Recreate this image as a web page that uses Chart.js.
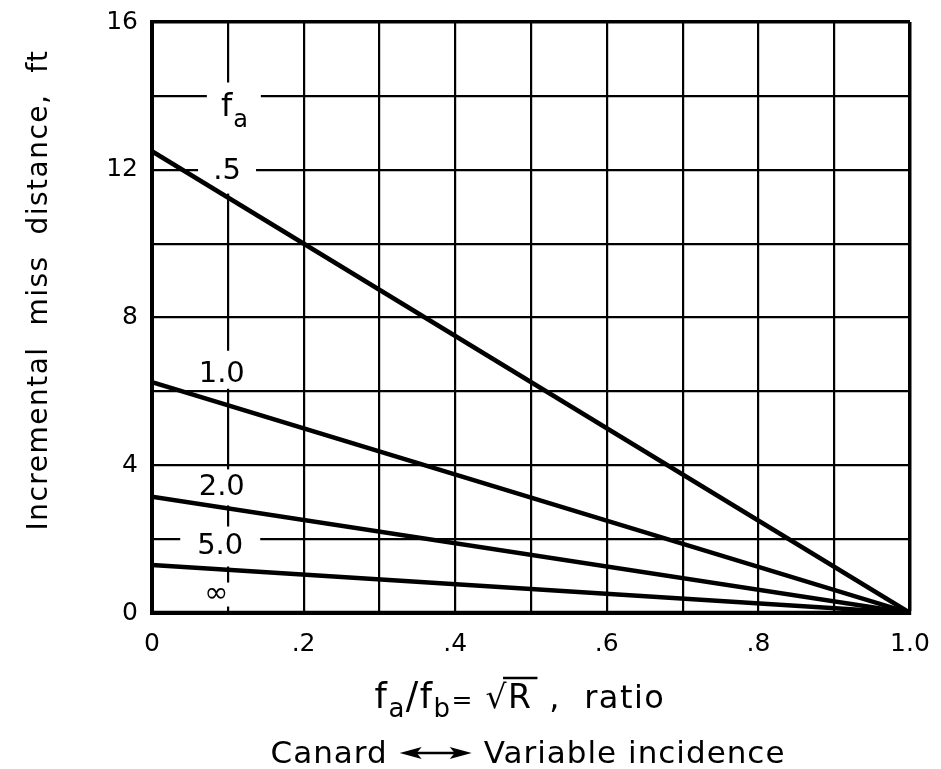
<!DOCTYPE html>
<html>
<head>
<meta charset="utf-8">
<script src="https://cdn.jsdelivr.net/npm/chart.js@4.4.1/dist/chart.umd.min.js"></script>
<style>
  html, body { margin: 0; padding: 0; background: #fff; }
  #wrap { width: 941px; height: 769px; position: relative; }
</style>
</head>
<body>
<div id="wrap"><canvas id="chart"></canvas></div>
<script>
// ratio fa/fb along the x axis
var xRatio = [0, 1];

// incremental miss distance (ft) for each fa curve
var missHalf = [12.5, 0];
var missOne = [6.25, 0];
var missTwo = [3.15, 0];
var missFive = [1.3, 0];
var missInf = [0, 0];

var curveNames = [".5", "1.0", "2.0", "5.0", "\u221e"];

var FONT = "'DejaVu Sans', sans-serif";

function pts(ys) {
  return xRatio.map(function (x, i) { return { x: x, y: ys[i] }; });
}

// curve labels (in data units) with white boxes that break the grid
var curveLabels = [
  { text: "f", sub: "a", x: 0.108, y: 13.55, w: 54, h: 60, dy: 0 },
  { text: curveNames[0], x: 0.099, y: 11.95, w: 58, h: 52, dy: -4 },
  { text: curveNames[1], x: 0.092, y: 6.45, w: 50, h: 38, dy: -5 },
  { text: curveNames[2], x: 0.092, y: 3.4, w: 56, h: 36, dy: 0 },
  { text: curveNames[3], x: 0.09, y: 1.8, w: 80, h: 40, dy: 0 },
  { text: curveNames[4], x: 0.085, y: 0.5, w: 30, h: 24, dy: 0 }
];

var labelPlugin = {
  id: "curveLabels",
  beforeDatasetsDraw: function (chart) {
    var ctx = chart.ctx, xs = chart.scales.x, ys = chart.scales.y;
    ctx.save();
    curveLabels.forEach(function (l) {
      var px = xs.getPixelForValue(l.x), py = ys.getPixelForValue(l.y);
      ctx.fillStyle = "#fff";
      ctx.fillRect(px - l.w / 2, py + l.dy - l.h / 2, l.w, l.h);
      ctx.fillStyle = "#000";
      ctx.textBaseline = "middle";
      if (l.sub) {
        ctx.font = "32px " + FONT;
        ctx.textAlign = "left";
        var w1 = ctx.measureText(l.text).width;
        ctx.font = "24px " + FONT;
        var w2 = ctx.measureText(l.sub).width;
        var x0 = px - (w1 + w2) / 2;
        ctx.font = "32px " + FONT;
        ctx.fillText(l.text, x0, py - 5);
        ctx.font = "24px " + FONT;
        ctx.fillText(l.sub, x0 + w1 + 1, py + 8);
      } else {
        ctx.font = "29px " + FONT;
        ctx.textAlign = "center";
        ctx.fillText(l.text, px, py);
      }
    });
    ctx.restore();
  }
};

// x axis title lines drawn with subscripts, and the arrow line
function drawRuns(ctx, runs, cx, base) {
  var total = 0;
  runs.forEach(function (r) {
    ctx.font = r.size + "px " + FONT;
    r.w = ctx.measureText(r.t).width + (r.gap || 0);
    total += r.w;
  });
  var x = cx - total / 2;
  runs.forEach(function (r) {
    ctx.font = r.size + "px " + FONT;
    ctx.fillText(r.t, x, base + (r.dy || 0));
    r.x = x;
    x += r.w;
  });
  return runs;
}

var titlePlugin = {
  id: "titles",
  afterDraw: function (chart) {
    var ctx = chart.ctx;
    ctx.save();
    ctx.fillStyle = "#000";
    ctx.strokeStyle = "#000";
    ctx.textAlign = "left";
    ctx.textBaseline = "alphabetic";
    ctx.letterSpacing = "1.5px";
    var base1 = 708;
    var runs = drawRuns(ctx, [
      { t: "f", size: 35 },
      { t: "a", size: 26, dy: 9 },
      { t: "/", size: 37 },
      { t: "f", size: 35 },
      { t: "b", size: 26, dy: 9 },
      { t: "= ", size: 25, gap: 2 },
      { t: "\u221a", size: 33 },
      { t: "R", size: 33, gap: 5 },
      { t: " ,  ratio", size: 32 }
    ], 520, base1);
    // bar over R
    var sq = runs[6], r = runs[7];
    ctx.lineWidth = 2.5;
    ctx.beginPath();
    ctx.moveTo(sq.x + sq.w - 5, base1 - 30);
    ctx.lineTo(r.x + r.w, base1 - 30);
    ctx.stroke();

    // Canard <-> Variable incidence
    ctx.letterSpacing = "1px";
    var base = 763, size = 31;
    ctx.font = size + "px " + FONT;
    var a = "Canard", b = "Variable incidence";
    var wa = ctx.measureText(a).width, wb = ctx.measureText(b).width;
    var arrowW = 72, gap = 12;
    var total = wa + gap + arrowW + gap + wb;
    var x0 = 528 - total / 2;
    ctx.fillText(a, x0, base);
    var ax = x0 + wa + gap, ay = base - 10;
    ctx.lineWidth = 2.5;
    ctx.beginPath();
    ctx.moveTo(ax + 10, ay);
    ctx.lineTo(ax + arrowW - 10, ay);
    ctx.stroke();
    [[ax, 1], [ax + arrowW, -1]].forEach(function (p) {
      ctx.beginPath();
      ctx.moveTo(p[0], ay);
      ctx.lineTo(p[0] + 22 * p[1], ay - 6);
      ctx.lineTo(p[0] + 17 * p[1], ay);
      ctx.lineTo(p[0] + 22 * p[1], ay + 6);
      ctx.closePath();
      ctx.fill();
    });
    ctx.fillText(b, ax + arrowW + gap, base);

    // y axis title
    ctx.translate(40, 290);
    ctx.rotate(-Math.PI / 2);
    ctx.textAlign = "center";
    ctx.textBaseline = "middle";
    ctx.letterSpacing = "1.5px";
    ctx.font = "28px " + FONT;
    ctx.fillText("Incremental  miss  distance,  ft", 0, 0);
    ctx.restore();
  }
};

function lineSet(ys) {
  return {
    data: pts(ys),
    borderColor: "#000",
    borderWidth: 4.5,
    pointRadius: 0,
    fill: false,
    tension: 0
  };
}

var ctx = document.getElementById("chart").getContext("2d");

var myChart = new Chart(ctx, {
  type: "line",
  data: {
    datasets: [
      lineSet(missHalf),
      lineSet(missOne),
      lineSet(missTwo),
      lineSet(missFive),
      lineSet(missInf)
    ]
  },
  plugins: [labelPlugin, titlePlugin],
  options: {
    responsive: true,
    maintainAspectRatio: false,
    animation: false,
    layout: { padding: { top: 22, right: 31, left: 0, bottom: 0 } },
    plugins: {
      legend: { display: false },
      tooltip: { enabled: false }
    },
    scales: {
      x: {
        type: "linear",
        min: 0,
        max: 1,
        afterFit: function (scale) { scale.height = 156; },
        ticks: {
          stepSize: 0.1,
          autoSkip: false,
          maxRotation: 0,
          padding: 4,
          color: "#000",
          font: { family: FONT, size: 25 },
          callback: function (v) {
            var t = Math.round(v * 10);
            if (t % 2) return "";
            if (t === 0) return "0";
            if (t === 10) return "1.0";
            return "." + t;
          }
        },
        grid: {
          color: "#000",
          drawTicks: true,
          tickLength: 12,
          tickColor: "rgba(0,0,0,0)",
          lineWidth: function (c) { return c.tick && c.tick.value === 1 ? 3.5 : 2.2; }
        },
        border: { color: "#000", width: 4 }
      },
      y: {
        min: 0,
        max: 16,
        afterFit: function (scale) { scale.width = 152; },
        ticks: {
          stepSize: 2,
          padding: 6,
          color: "#000",
          font: { family: FONT, size: 25 },
          callback: function (v) { return v % 4 === 0 ? String(v) : ""; }
        },
        grid: {
          color: "#000",
          drawTicks: true,
          tickLength: 8,
          tickColor: "rgba(0,0,0,0)",
          lineWidth: function (c) { return c.tick && c.tick.value === 16 ? 3.5 : 2.2; }
        },
        border: { color: "#000", width: 4 }
      }
    }
  }
});
</script>
</body>
</html>
